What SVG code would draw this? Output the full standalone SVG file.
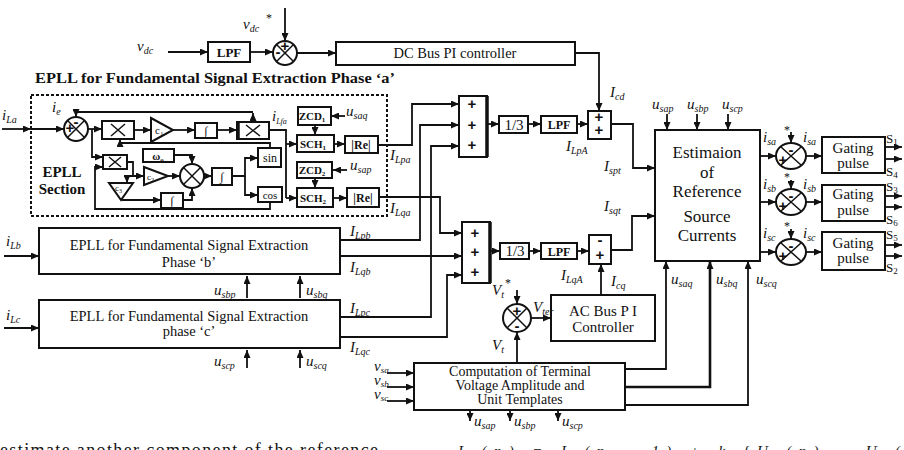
<svg xmlns="http://www.w3.org/2000/svg" width="904" height="450" viewBox="0 0 904 450">
<defs>
<marker id="ar" markerWidth="8" markerHeight="7" refX="8" refY="3.5" orient="auto" markerUnits="userSpaceOnUse"><path d="M0,0 L8,3.5 L0,7 z" fill="#111"/></marker>
</defs>
<style>
.b{fill:#fff;stroke:#111;stroke-width:2}
.c{fill:none;stroke:#111;stroke-width:1.8;marker-end:url(#ar)}
.l{fill:none;stroke:#111;stroke-width:1.8}
.x{fill:none;stroke:#111;stroke-width:1.5}
.t{font-family:"Liberation Serif","Times New Roman",serif;fill:#111}
.bd{font-weight:bold}
.lab{font-family:"Liberation Serif","Times New Roman",serif;font-style:italic;font-size:15px;fill:#111}
.s{font-size:10px}
.pl{font-family:"Liberation Sans",Arial,sans-serif;font-weight:bold;font-size:15px;fill:#111;text-anchor:middle}
.m{text-anchor:middle}
</style>
<rect width="904" height="450" fill="#fff"/>

<g id="connectors">
<path class="c" d="M168,52 H208"/>
<path class="c" d="M250,52 H273"/>
<path class="c" d="M285,8 V41"/>
<path class="c" d="M297,53 H336"/>
<path class="c" d="M575,53 H599 V111"/>
<path class="c" d="M487,124 H499"/>
<path class="c" d="M528,124 H541"/>
<path class="c" d="M577,124 H588"/>
<path class="c" d="M611,124 H633 V168 H655"/>
<path class="c" d="M490,251 H500"/>
<path class="c" d="M529,251 H541"/>
<path class="c" d="M577,251 H589"/>
<path class="c" d="M611,250 H632 V216 H655"/>
<path class="c" d="M601,295 V264"/>
<path class="c" d="M517,290 V304"/>
<path class="c" d="M531,318 H551"/>
<path class="c" d="M517,363 V332"/>
<path class="c" d="M387,373 H414"/>
<path class="c" d="M387,387 H414"/>
<path class="c" d="M387,401 H414"/>
<path class="c" d="M470,410 V421"/>
<path class="c" d="M510,410 V421"/>
<path class="c" d="M558,410 V421"/>
<path class="c" d="M625,369 H666 V261"/>
<path class="c" d="M625,387 H710 V261" style="stroke-width:2.6"/>
<path class="c" d="M625,405 H748 V261"/>
<path class="c" d="M667,114 V130"/>
<path class="c" d="M697,114 V130"/>
<path class="c" d="M728,114 V130"/>
<path class="c" d="M760,156 H776"/>
<path class="c" d="M760,202 H776"/>
<path class="c" d="M760,252 H776"/>
<path class="c" d="M791,132 V143"/>
<path class="c" d="M791,180 V189"/>
<path class="c" d="M791,229 V239"/>
<path class="c" d="M806,156 H822"/>
<path class="c" d="M806,202 H822"/>
<path class="c" d="M806,252 H822"/>
<path class="c" d="M885,147 H902"/>
<path class="c" d="M885,159 H902"/>
<path class="c" d="M885,196 H902"/>
<path class="c" d="M885,207 H902"/>
<path class="c" d="M885,245 H902"/>
<path class="c" d="M885,256 H902"/>
<path class="c" d="M2,129 H31"/>
<path class="c" d="M31,129 H64"/>
<path class="c" d="M88,129 H102"/>
<path class="c" d="M92,129 V157 H103"/>
<path class="c" d="M134,130 H151"/>
<path class="c" d="M173,130 H195"/>
<path class="c" d="M217,130 H237"/>
<path class="l" d="M269,130 H286 V198"/>
<path class="c" d="M286,144 H297"/>
<path class="c" d="M286,198 H297"/>
<path class="c" d="M253,122 V113"/>
<path class="c" d="M253,112 H76 V117"/>
<path class="c" d="M270,148 V143 H120 V139"/>
<path class="c" d="M270,202 V209 H95 V167 H103"/>
<path class="c" d="M127,162 H133 V176 H144"/>
<path class="c" d="M133,176 H127 V183"/>
<path class="c" d="M122,200 H161"/>
<path class="c" d="M174,155 H192 V164"/>
<path class="c" d="M168,176 H180"/>
<path class="c" d="M183,200 H192 V188"/>
<path class="c" d="M204,176 H212"/>
<path class="c" d="M232,176 H245 V158 H258"/>
<path class="c" d="M245,176 V195 H258"/>
<path class="c" d="M315,125 V135"/>
<path class="c" d="M345,116 H331"/>
<path class="c" d="M334,144 H345"/>
<path class="c" d="M315,178 V188"/>
<path class="c" d="M347,170 H333"/>
<path class="c" d="M333,198 H347"/>
<path class="c" d="M378,145 H412 V104 H459"/>
<path class="c" d="M340,240 H420 V125 H459"/>
<path class="c" d="M340,317 H431 V146 H459"/>
<path class="c" d="M379,197 H440 V233 H462"/>
<path class="c" d="M340,256 H462"/>
<path class="c" d="M340,337 H447 V275 H462"/>
<path class="c" d="M4,256 H39"/>
<path class="c" d="M4,328 H39"/>
<path class="c" d="M247,298 V276"/>
<path class="c" d="M300,298 V276"/>
<path class="c" d="M247,368 V350"/>
<path class="c" d="M300,368 V350"/>
</g>

<g id="lpf-dc"><rect class="b" x="208" y="42" width="42" height="20"/><text class="t bd m" x="229" y="57" font-size="13">LPF</text></g>
<g id="sum-dc"><circle class="b" cx="285" cy="53" r="12"/><path class="x" d="M277,45 L293,61 M277,61 L293,45"/><text class="pl" x="285" y="51" font-size="10">+</text><text class="pl" x="278" y="57" font-size="10">-</text></g>
<g id="dc-pi"><rect class="b" x="336" y="42" width="239" height="23"/><text class="t m" x="455" y="58" font-size="14.5">DC Bus PI controller</text></g>

<g id="epll-a">
<text class="t bd" x="35" y="83" font-size="14.5" textLength="360" lengthAdjust="spacingAndGlyphs">EPLL for Fundamental Signal Extraction Phase ‘a’</text>
<rect x="31" y="95" width="356" height="121" fill="none" stroke="#111" stroke-width="2" stroke-dasharray="3,2"/>
<circle class="b" cx="76" cy="129" r="12"/><path class="x" d="M68,121 L84,137 M68,137 L84,121"/>
<text class="pl" x="76" y="127" font-size="9">-</text><text class="pl" x="70" y="133" font-size="9">+</text>
<rect class="b" x="102" y="121" width="32" height="18"/><path class="x" d="M111,124 L125,136 M111,136 L125,124"/>
<polygon class="b" points="151,118 173,130 151,142"/><text class="t" x="155" y="134" font-size="11">c<tspan font-size="7" dy="2">1</tspan></text>
<rect class="b" x="195" y="123" width="22" height="15"/><text class="t m" x="206" y="135" font-size="12">∫</text>
<rect class="b" x="237" y="122" width="32" height="17"/><path d="M238,122 V139" stroke="#111" stroke-width="3.5"/><path class="x" d="M246,125 L260,136 M246,136 L260,125"/>
<rect class="b" x="103" y="155" width="24" height="14"/><path class="x" d="M109,157 L121,167 M109,167 L121,157"/>
<rect class="b" x="143" y="149" width="31" height="13"/><text class="t bd m" x="158" y="160" font-size="11">ω<tspan font-size="7" dy="2">o</tspan></text>
<polygon class="b" points="144,167 168,176 144,185"/><text class="t" x="147" y="180" font-size="9">c<tspan font-size="6" dy="2">2</tspan></text>
<polygon class="b" points="109,183 133,183 121,200"/><text class="t" x="115" y="191" font-size="9">c<tspan font-size="6" dy="2">3</tspan></text>
<circle class="b" cx="192" cy="176" r="12"/><path class="x" d="M184,168 L200,184 M184,184 L200,168"/>
<rect class="b" x="161" y="193" width="22" height="15"/><text class="t m" x="172" y="205" font-size="12">∫</text>
<rect class="b" x="212" y="168" width="20" height="17"/><text class="t m" x="222" y="181" font-size="12">∫</text>
<rect class="b" x="258" y="148" width="23" height="19"/><text class="t m" x="270" y="162" font-size="12">sin</text>
<rect class="b" x="258" y="187" width="24" height="15"/><text class="t m" x="270" y="199" font-size="11">cos</text>
<text class="t bd m" x="62" y="177" font-size="15">EPLL</text>
<text class="t bd m" x="62" y="194" font-size="15">Section</text>
<rect class="b" x="298" y="107" width="33" height="18"/><text class="t bd m" x="312" y="120" font-size="11">ZCD<tspan font-size="7" dy="2">1</tspan></text>
<rect class="b" x="297" y="135" width="37" height="17"/><text class="t bd m" x="313" y="148" font-size="11">SCH<tspan font-size="7" dy="2">1</tspan></text>
<rect class="b" x="345" y="136" width="33" height="17"/><text class="t bd m" x="361" y="149" font-size="12">|Re|</text>
<rect class="b" x="297" y="162" width="35" height="16"/><text class="t bd m" x="312" y="174" font-size="11">ZCD<tspan font-size="7" dy="2">2</tspan></text>
<rect class="b" x="297" y="188" width="36" height="19"/><text class="t bd m" x="313" y="202" font-size="11">SCH<tspan font-size="7" dy="2">2</tspan></text>
<rect class="b" x="347" y="188" width="32" height="19"/><text class="t bd m" x="363" y="202" font-size="12">|Re|</text>
</g>

<g id="epll-b"><rect class="b" x="39" y="228" width="301" height="46"/><text class="t m" x="189" y="250" font-size="14.5">EPLL for Fundamental Signal Extraction</text><text class="t m" x="189" y="267" font-size="14.5">Phase ‘b’</text></g>
<g id="epll-c"><rect class="b" x="39" y="300" width="301" height="48"/><text class="t m" x="189" y="321" font-size="14.5">EPLL for Fundamental Signal Extraction</text><text class="t m" x="189" y="336" font-size="14.5">phase  ‘c’</text></g>

<g id="sum3-p"><rect class="b" x="459" y="96" width="28" height="61"/><path d="M487,96 V157" stroke="#111" stroke-width="3.5"/><text class="pl" x="472" y="109">+</text><text class="pl" x="472" y="130">+</text><text class="pl" x="472" y="150">+</text></g>
<g id="third-p"><rect class="b" x="499" y="116" width="29" height="17"/><text class="t m" x="514" y="130" font-size="15">1/3</text></g>
<g id="lpf-p"><rect class="b" x="541" y="116" width="36" height="17"/><text class="t bd m" x="559" y="129" font-size="12">LPF</text></g>
<g id="sum-p"><rect class="b" x="588" y="111" width="23" height="28"/><text class="pl" x="599" y="122" font-size="11">+</text><text class="pl" x="599" y="135" font-size="11">+</text></g>

<g id="sum3-q"><rect class="b" x="462" y="222" width="28" height="61"/><path d="M490,222 V283" stroke="#111" stroke-width="3.5"/><text class="pl" x="475" y="238">+</text><text class="pl" x="475" y="257">+</text><text class="pl" x="475" y="277">+</text></g>
<g id="third-q"><rect class="b" x="500" y="243" width="29" height="16"/><text class="t m" x="515" y="256" font-size="15">1/3</text></g>
<g id="lpf-q"><rect class="b" x="541" y="243" width="36" height="16"/><text class="t bd m" x="559" y="256" font-size="12">LPF</text></g>
<g id="sum-q"><rect class="b" x="589" y="235" width="22" height="29"/><text class="pl" x="600" y="245" font-size="11">-</text><text class="pl" x="600" y="260" font-size="11">+</text></g>

<g id="sum-vt"><circle class="b" cx="517" cy="318" r="14"/><path class="x" d="M507,308 L527,328 M507,328 L527,308"/><text class="pl" x="517" y="316" font-size="11">+</text><text class="pl" x="517" y="331" font-size="11">-</text></g>
<g id="ac-pi"><rect class="b" x="551" y="295" width="104" height="46"/><text class="t m" x="603" y="316" font-size="15">AC Bus P I</text><text class="t m" x="603" y="332" font-size="15">Controller</text></g>
<g id="computation"><rect class="b" x="414" y="363" width="211" height="47"/><text class="t m" x="520" y="376" font-size="14">Computation of Terminal</text><text class="t m" x="520" y="390" font-size="14">Voltage Amplitude and</text><text class="t m" x="520" y="404" font-size="14">Unit Templates</text></g>

<g id="estimation"><rect class="b" x="655" y="130" width="105" height="131"/>
<text class="t m" x="707" y="158" font-size="17">Estimaion</text><text class="t m" x="707" y="178" font-size="17">of</text><text class="t m" x="707" y="197" font-size="17">Reference</text><text class="t m" x="707" y="222" font-size="17">Source</text><text class="t m" x="707" y="241" font-size="17">Currents</text></g>

<g id="cmp-a"><ellipse class="b" cx="791" cy="156" rx="15" ry="13"/><path class="x" d="M781,147 L801,165 M781,165 L801,147"/><text class="pl" x="791" y="155" font-size="12">-</text><text class="pl" x="783" y="165" font-size="11">+</text></g>
<g id="cmp-b"><ellipse class="b" cx="791" cy="202" rx="15" ry="13"/><path class="x" d="M781,193 L801,211 M781,211 L801,193"/><text class="pl" x="791" y="201" font-size="12">-</text><text class="pl" x="783" y="211" font-size="11">+</text></g>
<g id="cmp-c"><ellipse class="b" cx="791" cy="252" rx="15" ry="13"/><path class="x" d="M781,243 L801,261 M781,261 L801,243"/><text class="pl" x="791" y="251" font-size="12">-</text><text class="pl" x="783" y="261" font-size="11">+</text></g>
<g id="gate-a"><rect class="b" x="822" y="137" width="63" height="36"/><text class="t m" x="853" y="153" font-size="15">Gating</text><text class="t m" x="853" y="168" font-size="15">pulse</text></g>
<g id="gate-b"><rect class="b" x="822" y="185" width="63" height="36"/><text class="t m" x="853" y="199" font-size="15">Gating</text><text class="t m" x="853" y="215" font-size="15">pulse</text></g>
<g id="gate-c"><rect class="b" x="822" y="232" width="63" height="38"/><text class="t m" x="853" y="248" font-size="15">Gating</text><text class="t m" x="853" y="263" font-size="15">pulse</text></g>

<g id="labels">
<text class="lab" x="137" y="51" font-size="17">v<tspan class="s" dy="3">dc</tspan></text>
<text class="lab" x="243" y="29" font-size="17">v<tspan class="s" dy="3">dc</tspan></text><text class="t" x="266" y="22" font-size="12">*</text>
<text class="lab" x="2" y="120">i<tspan class="s" dy="3">La</tspan></text>
<text class="lab" x="52" y="112">i<tspan class="s" dy="3">e</tspan></text>
<text class="lab" x="272" y="121" font-size="13">i<tspan font-size="8" dy="3">Lfa</tspan></text>
<text class="lab" x="346" y="116">u<tspan class="s" dy="3">saq</tspan></text>
<text class="lab" x="350" y="170">u<tspan class="s" dy="3">sap</tspan></text>
<text class="lab" x="390" y="160">I<tspan class="s" dy="3">Lpa</tspan></text>
<text class="lab" x="390" y="213">I<tspan class="s" dy="3">Lqa</tspan></text>
<text class="lab" x="350" y="236">I<tspan class="s" dy="3">Lpb</tspan></text>
<text class="lab" x="350" y="272">I<tspan class="s" dy="3">Lqb</tspan></text>
<text class="lab" x="350" y="313">I<tspan class="s" dy="3">Lpc</tspan></text>
<text class="lab" x="350" y="352">I<tspan class="s" dy="3">Lqc</tspan></text>
<text class="lab" x="6" y="246">i<tspan class="s" dy="3">Lb</tspan></text>
<text class="lab" x="6" y="320">i<tspan class="s" dy="3">Lc</tspan></text>
<text class="lab" x="214" y="295">u<tspan class="s" dy="3">sbp</tspan></text>
<text class="lab" x="306" y="295">u<tspan class="s" dy="3">sbq</tspan></text>
<text class="lab" x="214" y="366">u<tspan class="s" dy="3">scp</tspan></text>
<text class="lab" x="306" y="366">u<tspan class="s" dy="3">scq</tspan></text>
<text class="lab" x="566" y="151">I<tspan class="s" dy="3">LpA</tspan></text>
<text class="lab" x="610" y="97">I<tspan class="s" dy="3">cd</tspan></text>
<text class="lab" x="604" y="171">I<tspan class="s" dy="3">spt</tspan></text>
<text class="lab" x="604" y="211">I<tspan class="s" dy="3">sqt</tspan></text>
<text class="lab" x="561" y="280">I<tspan class="s" dy="3">LqA</tspan></text>
<text class="lab" x="611" y="286">I<tspan class="s" dy="3">cq</tspan></text>
<text class="lab" x="492" y="295">V<tspan class="s" dy="3">t</tspan></text><text class="t" x="505" y="287" font-size="12">*</text>
<text class="lab" x="533" y="312">V<tspan class="s" dy="3">ter</tspan></text>
<text class="lab" x="492" y="350">V<tspan class="s" dy="3">t</tspan></text>
<text class="lab" x="374" y="371" font-size="13">v<tspan font-size="9" dy="2">sa</tspan></text>
<text class="lab" x="374" y="385" font-size="13">v<tspan font-size="9" dy="2">sb</tspan></text>
<text class="lab" x="374" y="399" font-size="13">v<tspan font-size="9" dy="2">sc</tspan></text>
<text class="lab" x="474" y="426">u<tspan class="s" dy="3">sap</tspan></text>
<text class="lab" x="514" y="426">u<tspan class="s" dy="3">sbp</tspan></text>
<text class="lab" x="562" y="426">u<tspan class="s" dy="3">scp</tspan></text>
<text class="lab" x="652" y="109">u<tspan class="s" dy="3">sap</tspan></text>
<text class="lab" x="687" y="109">u<tspan class="s" dy="3">sbp</tspan></text>
<text class="lab" x="722" y="109">u<tspan class="s" dy="3">scp</tspan></text>
<text class="lab" x="671" y="284">u<tspan class="s" dy="3">saq</tspan></text>
<text class="lab" x="716" y="284">u<tspan class="s" dy="3">sbq</tspan></text>
<text class="lab" x="756" y="284">u<tspan class="s" dy="3">scq</tspan></text>
<text class="lab" x="763" y="142">i<tspan class="s" dy="3">sa</tspan></text><text class="t" x="784" y="134" font-size="12">*</text>
<text class="lab" x="803" y="142">i<tspan class="s" dy="3">sa</tspan></text>
<text class="lab" x="763" y="189">i<tspan class="s" dy="3">sb</tspan></text><text class="t" x="784" y="181" font-size="12">*</text>
<text class="lab" x="803" y="189">i<tspan class="s" dy="3">sb</tspan></text>
<text class="lab" x="763" y="238">i<tspan class="s" dy="3">sc</tspan></text><text class="t" x="784" y="230" font-size="12">*</text>
<text class="lab" x="803" y="238">i<tspan class="s" dy="3">sc</tspan></text>
<text class="t" x="886" y="143" font-size="13">S<tspan font-size="9" dy="2">1</tspan></text>
<text class="t" x="886" y="176" font-size="13">S<tspan font-size="9" dy="2">4</tspan></text>
<text class="t" x="886" y="191" font-size="13">S<tspan font-size="9" dy="2">3</tspan></text>
<text class="t" x="886" y="224" font-size="13">S<tspan font-size="9" dy="2">6</tspan></text>
<text class="t" x="886" y="239" font-size="13">S<tspan font-size="9" dy="2">5</tspan></text>
<text class="t" x="886" y="272" font-size="13">S<tspan font-size="9" dy="2">2</tspan></text>
</g>
<text class="t" x="0" y="456" font-size="18" textLength="378" lengthAdjust="spacing">estimate another component of the reference</text>
<text class="lab" x="458" y="456" font-size="18" textLength="442" lengthAdjust="spacing">I   (n) = I   (n − 1) + k  {U    (n) − U    (</text>
</svg>
